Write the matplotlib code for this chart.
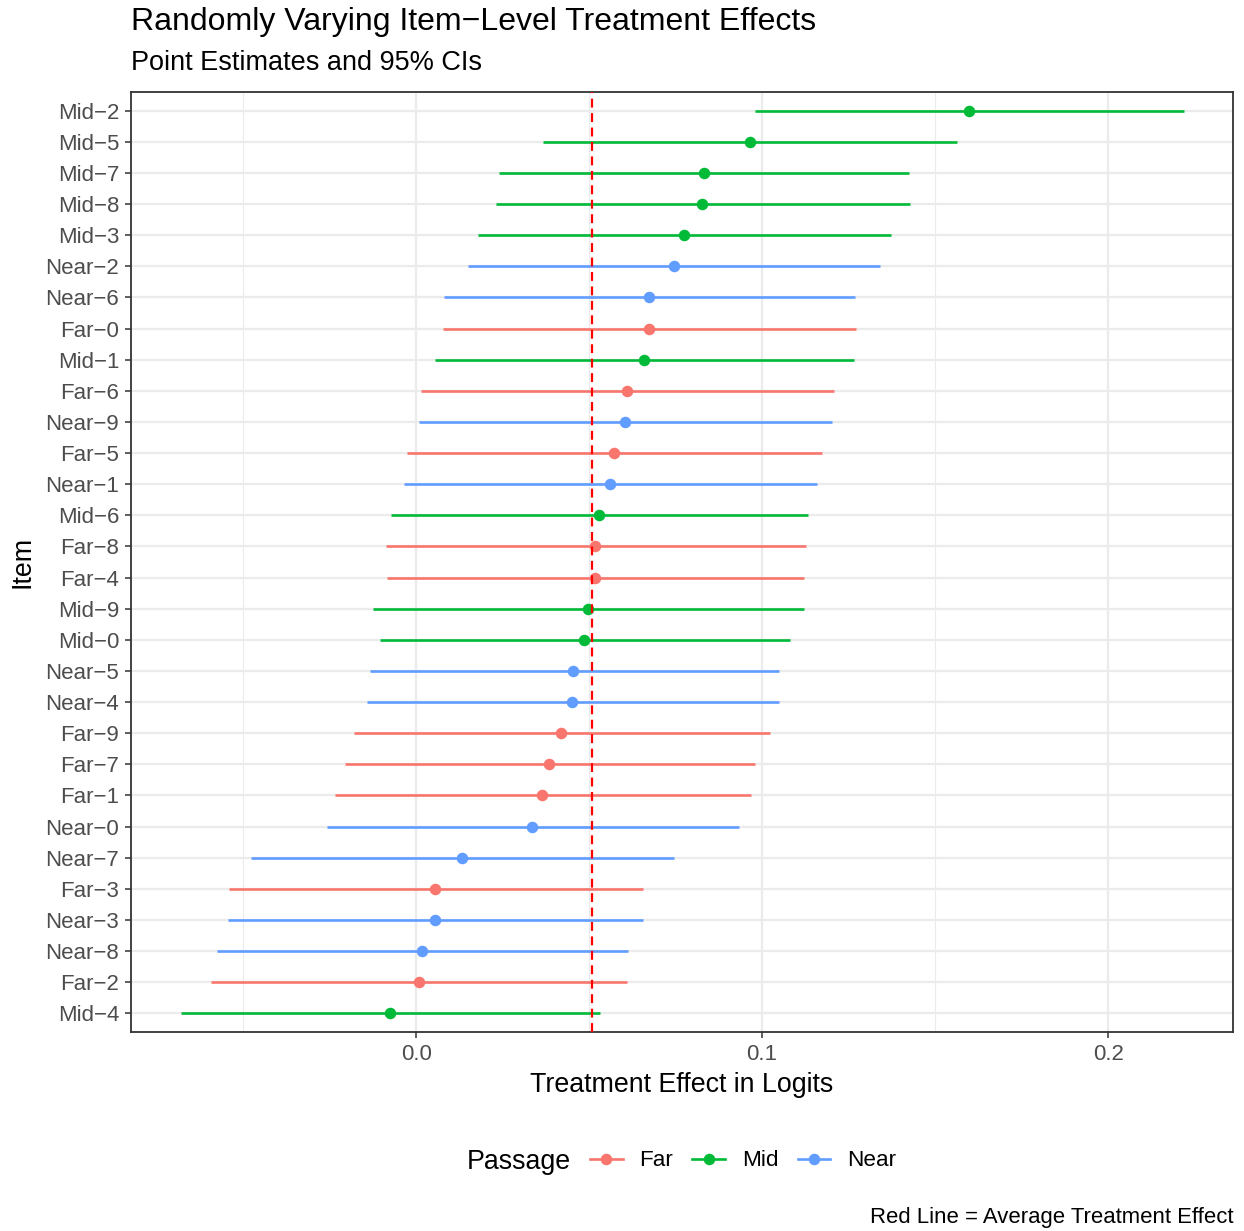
import numpy as np
import matplotlib.pyplot as plt
from matplotlib.lines import Line2D

plt.rcParams['font.family'] = ['Liberation Sans', 'DejaVu Sans']

# items from top to bottom
items = ['Mid-2', 'Mid-5', 'Mid-7', 'Mid-8', 'Mid-3', 'Near-2', 'Near-6', 'Far-0', 'Mid-1', 'Far-6',
         'Near-9', 'Far-5', 'Near-1', 'Mid-6', 'Far-8', 'Far-4', 'Mid-9', 'Mid-0', 'Near-5', 'Near-4',
         'Far-9', 'Far-7', 'Far-1', 'Near-0', 'Near-7', 'Far-3', 'Near-3', 'Near-8', 'Far-2', 'Mid-4']
estimate = [0.1598, 0.0965, 0.0832, 0.0827, 0.0775, 0.0746, 0.0673, 0.0673, 0.0659, 0.0610,
            0.0604, 0.0572, 0.0561, 0.0529, 0.0517, 0.0517, 0.0497, 0.0486, 0.0454, 0.0451,
            0.0419, 0.0384, 0.0364, 0.0335, 0.0133, 0.0055, 0.0055, 0.0017, 0.0009, -0.0075]
lower = [0.0980, 0.0367, 0.0240, 0.0231, 0.0179, 0.0150, 0.0081, 0.0078, 0.0055, 0.0014,
         0.0009, -0.0026, -0.0035, -0.0072, -0.0087, -0.0084, -0.0124, -0.0104, -0.0133, -0.0142,
         -0.0179, -0.0205, -0.0234, -0.0257, -0.0477, -0.0540, -0.0543, -0.0575, -0.0592, -0.0679]
upper = [0.2220, 0.1564, 0.1425, 0.1428, 0.1373, 0.1341, 0.1269, 0.1272, 0.1266, 0.1208,
         0.1202, 0.1173, 0.1159, 0.1133, 0.1127, 0.1121, 0.1121, 0.1081, 0.1049, 0.1049,
         0.1023, 0.0980, 0.0968, 0.0934, 0.0746, 0.0656, 0.0656, 0.0613, 0.0610, 0.0532]
average_effect = 0.0509

passages = ['Far', 'Mid', 'Near']
colors = {'Far': '#F8766D', 'Mid': '#00BA38', 'Near': '#619CFF'}

fig = plt.figure(figsize=(12.44, 12.31), dpi=100)
W, H = 1244, 1231
ax = fig.add_axes([131 / W, 1 - 1032 / H, (1233 - 131) / W, (1032 - 92) / H])

n = len(items)
ypos = np.arange(n)[::-1]

# grid
for xv in [-0.05, 0.05, 0.15]:
    ax.axvline(xv, color='#EBEBEB', lw=0.8, zorder=0)
for xv in [0.0, 0.1, 0.2]:
    ax.axvline(xv, color='#EBEBEB', lw=1.6, zorder=0)
for yv in ypos:
    ax.axhline(yv, color='#EBEBEB', lw=1.6, zorder=0)

for i, name in enumerate(items):
    c = colors[name.split('-')[0]]
    ax.plot([lower[i], upper[i]], [ypos[i], ypos[i]], color=c, lw=1.9, solid_capstyle='butt', zorder=2)
    ax.plot(estimate[i], ypos[i], 'o', color=c, ms=8.3, mec='none', zorder=3)

ax.axvline(average_effect, color='red', lw=1.6, ls=(0, (4, 2.5)), zorder=4)

ax.set_xlim(-0.0824, 0.2361)
ax.set_ylim(-0.6, n - 0.4)
ax.set_xticks([0.0, 0.1, 0.2])
ax.set_xticklabels(['0.0', '0.1', '0.2'])
ax.set_yticks(ypos)
ax.set_yticklabels([s.replace('-', '\u2212') for s in items])
ax.tick_params(axis='both', colors='#333333', labelcolor='#4D4D4D', labelsize=16, length=4.5, width=1.1)
ax.tick_params(axis='y', pad=4)
ax.tick_params(axis='x', pad=4)
for sp in ax.spines.values():
    sp.set_color('#333333')
    sp.set_linewidth(1.3)

ax.set_xlabel('Treatment Effect in Logits', fontsize=19.3, labelpad=5.5)
ax.set_ylabel('Item', fontsize=19.3, labelpad=7)

fig.text(131 / W, 1 - 22 / H, 'Randomly Varying Item\u2212Level Treatment Effects', fontsize=23, va='center', ha='left')
fig.text(131 / W, 1 - 63 / H, 'Point Estimates and 95% CIs', fontsize=19.5, va='center', ha='left')

fig.text(467 / W, 1 - 1162 / H, 'Passage', fontsize=19.3, va='center', ha='left')
handles = [Line2D([0], [0], color=colors[p], lw=1.9, marker='o', ms=8.3, mec='none') for p in passages]
fig.legend(handles, passages, ncol=3, loc='center left', bbox_to_anchor=(590 / W, 1 - 1161 / H),
           frameon=False, fontsize=16.2, handlelength=1.45, handletextpad=0.75, columnspacing=0.85,
           borderpad=0, borderaxespad=0)

fig.text(1233 / W, 1 - 1217 / H, 'Red Line = Average Treatment Effect', fontsize=15.9, va='center', ha='right')

fig.savefig('out.png', dpi=100)
